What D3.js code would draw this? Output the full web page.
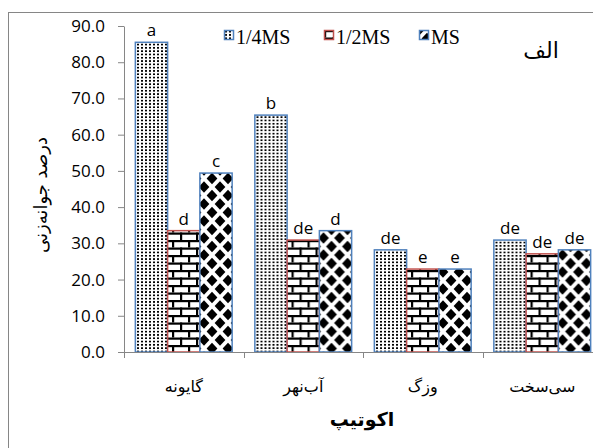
<!DOCTYPE html>
<html>
<head>
<meta charset="utf-8">
<script src="https://cdn.jsdelivr.net/npm/d3@7"></script>
<style>
  body { margin: 0; background: #fff; }
</style>
</head>
<body>
<div id="chart"></div>
<script>
// data
const categories = ['گایونه', 'آب‌نهر', 'وزگ', 'سی‌سخت'];
const seriesNames = ['1/4MS', '1/2MS', 'MS'];
const quarterMS = [85.5, 65.4, 28.2, 30.9];
const halfMS = [33.5, 30.9, 22.9, 27.1];
const fullMS = [49.4, 33.5, 22.9, 28.2];
const quarterLetters = ['a', 'b', 'de', 'de'];
const halfLetters = ['d', 'de', 'e', 'de'];
const fullLetters = ['c', 'd', 'e', 'de'];
const yTicks = [0, 10, 20, 30, 40, 50, 60, 70, 80, 90];

const series = [
  { name: seriesNames[0], values: quarterMS, letters: quarterLetters, stroke: '#4F81BD', fill: 'url(#pDots)' },
  { name: seriesNames[1], values: halfMS, letters: halfLetters, stroke: '#C0504D', fill: 'url(#pBrick)' },
  { name: seriesNames[2], values: fullMS, letters: fullLetters, stroke: '#4F81BD', fill: 'url(#pDiamond)' },
];

const W = 593, H = 448;
const plot = { left: 124, top: 26, bottom: 352, right: 602 };
const axisColor = '#868686';
const sansFont = '"Open Sans", sans-serif';
const arabicFont = '"DejaVu Sans", sans-serif';

const svg = d3.select('#chart').append('svg')
  .attr('width', W).attr('height', H);

// ---- fill patterns (black on white, like the Excel pattern fills)
const defs = svg.append('defs');

const dots = defs.append('pattern').attr('id', 'pDots')
  .attr('patternUnits', 'userSpaceOnUse').attr('width', 4).attr('height', 3.3);
dots.append('rect').attr('width', 4).attr('height', 3.3).attr('fill', '#fff');
dots.append('rect').attr('x', 1).attr('y', 0.8).attr('width', 2).attr('height', 1.7).attr('fill', '#000');

const brick = defs.append('pattern').attr('id', 'pBrick')
  .attr('patternUnits', 'userSpaceOnUse').attr('width', 16).attr('height', 15);
brick.append('rect').attr('width', 16).attr('height', 15).attr('fill', '#fff');
brick.append('rect').attr('x', 0).attr('y', 0).attr('width', 16).attr('height', 2.2).attr('fill', '#000');
brick.append('rect').attr('x', 0).attr('y', 7.5).attr('width', 16).attr('height', 2.2).attr('fill', '#000');
brick.append('rect').attr('x', 0).attr('y', 0).attr('width', 2.2).attr('height', 7.5).attr('fill', '#000');
brick.append('rect').attr('x', 8).attr('y', 7.5).attr('width', 2.2).attr('height', 7.5).attr('fill', '#000');

const dia = defs.append('pattern').attr('id', 'pDiamond')
  .attr('patternUnits', 'userSpaceOnUse').attr('width', 16).attr('height', 17);
dia.append('rect').attr('width', 16).attr('height', 17).attr('fill', '#fff');
const dw = 5.4, dh = 5.8;
[[8, 8.5], [0, 0], [16, 0], [0, 17], [16, 17]].forEach(([cx, cy]) => {
  dia.append('path')
    .attr('d', `M${cx},${cy - dh} L${cx + dw},${cy} L${cx},${cy + dh} L${cx - dw},${cy} Z`)
    .attr('fill', '#000');
});

// ---- outer chart border (cropped on the right and bottom)
svg.append('rect')
  .attr('x', 8.5).attr('y', 12.5).attr('width', 700).attr('height', 600)
  .attr('fill', 'none').attr('stroke', axisColor).attr('stroke-width', 1);

// ---- scales
const x0 = d3.scaleBand().domain(categories).range([plot.left, plot.right]).padding(0);
const gap = x0.bandwidth() * 0.095;
const x1 = d3.scaleBand().domain(seriesNames).range([gap, x0.bandwidth() - gap]).padding(0);
const y = d3.scaleLinear().domain([0, 90]).range([plot.bottom, plot.top]);

// ---- bars
const groups = svg.append('g').selectAll('g')
  .data(categories)
  .join('g')
  .attr('transform', d => `translate(${x0(d)},0)`);

series.forEach(s => {
  groups.append('rect')
    .attr('x', (d, i) => x1(s.name))
    .attr('y', (d, i) => y(s.values[i]))
    .attr('width', x1.bandwidth())
    .attr('height', (d, i) => y(0) - y(s.values[i]))
    .attr('fill', s.fill)
    .attr('stroke', s.stroke)
    .attr('stroke-width', 1.5);

  groups.append('text')
    .attr('x', (d, i) => x1(s.name) + x1.bandwidth() / 2)
    .attr('y', (d, i) => y(s.values[i]) - 6)
    .attr('text-anchor', 'middle')
    .style('font-family', sansFont)
    .style('font-size', '17px')
    .style('fill', '#000')
    .text((d, i) => s.letters[i]);
});

// ---- y axis
const yAxis = svg.append('g')
  .attr('transform', `translate(${plot.left},0)`)
  .call(d3.axisLeft(y).tickValues(yTicks).tickFormat(d3.format('.1f'))
    .tickSize(6).tickSizeOuter(0).tickPadding(13));
yAxis.select('.domain').attr('stroke', axisColor);
yAxis.selectAll('.tick line').attr('stroke', axisColor);
yAxis.selectAll('.tick text')
  .style('font-family', sansFont).style('font-size', '17px').style('fill', '#000');

// ---- x axis: baseline and boundary ticks
svg.append('line')
  .attr('x1', plot.left).attr('x2', W)
  .attr('y1', y(0) + 0.5).attr('y2', y(0) + 0.5)
  .attr('stroke', axisColor);
svg.append('g').selectAll('line')
  .data(categories)
  .join('line')
  .attr('x1', d => Math.round(x0(d)) + 0.5).attr('x2', d => Math.round(x0(d)) + 0.5)
  .attr('y1', y(0)).attr('y2', y(0) + 6)
  .attr('stroke', axisColor);

svg.append('g').selectAll('text')
  .data(categories)
  .join('text')
  .attr('x', d => x0(d) + x0.bandwidth() / 2)
  .attr('y', 392)
  .attr('text-anchor', 'middle')
  .attr('direction', 'rtl')
  .style('font-family', arabicFont)
  .style('font-size', '16px')
  .style('fill', '#000')
  .text(d => d);

// ---- axis titles
svg.append('text')
  .attr('x', 362).attr('y', 426)
  .attr('text-anchor', 'middle')
  .attr('direction', 'rtl')
  .style('font-family', arabicFont)
  .style('font-size', '19px')
  .style('font-weight', 'bold')
  .text('اکوتیپ');

svg.append('text')
  .attr('transform', 'translate(47,195) rotate(-90)')
  .attr('text-anchor', 'middle')
  .attr('direction', 'rtl')
  .style('font-family', arabicFont)
  .style('font-size', '18px')
  .text('درصد جوانه‌زنی');

// ---- panel letter
svg.append('text')
  .attr('x', 541).attr('y', 58)
  .attr('text-anchor', 'middle')
  .attr('direction', 'rtl')
  .style('font-family', arabicFont)
  .style('font-size', '22px')
  .text('الف');

// ---- legend
const legendX = [224, 324, 419];
const legend = svg.append('g').selectAll('g')
  .data(series)
  .join('g')
  .attr('transform', (d, i) => `translate(${legendX[i]},30)`);
legend.append('rect')
  .attr('x', 0.5).attr('y', 0.5).attr('width', 9).attr('height', 9)
  .attr('fill', d => d.fill)
  .attr('stroke', d => d.stroke)
  .attr('stroke-width', 1.5);
legend.append('text')
  .attr('x', 12).attr('y', 14)
  .style('font-family', '"Liberation Serif", "Times New Roman", serif')
  .style('font-size', '20px')
  .style('fill', '#000')
  .text(d => d.name);
</script>
</body>
</html>
